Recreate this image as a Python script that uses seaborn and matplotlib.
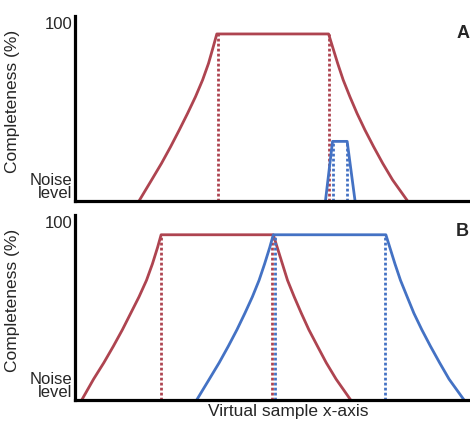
import pandas as pd
import matplotlib
matplotlib.use("Agg")
import matplotlib.pyplot as plt
import seaborn as sns

RED = "#AE4450"
BLUE = "#4472C4"

# panel A - red curve (x in sample units, y in % completeness)
a_red_x = [16.2, 19.4, 21.9, 24.2, 26.4, 28.5, 30.5, 32.3, 33.8, 35.0, 35.9,
           64.2, 65.2, 66.5, 67.9, 69.6, 71.4, 73.4, 75.6, 77.9, 80.4, 84.2]
a_red_y = [0, 11.8, 21.1, 30.4, 39.8, 49.1, 58.4, 67.8, 77.1, 86.4, 93.6,
           93.6, 86.4, 77.1, 67.8, 58.4, 49.1, 39.8, 30.4, 21.1, 11.8, 0]
a_red_bounds = [36.2, 64.3]

# panel A - small blue curve
a_blue_x = [63.4, 65.2, 68.9, 70.9]
a_blue_y = [0, 33.4, 33.4, 0]
a_blue_bounds = [65.3, 68.8]

# panel B - red and blue curves
b_red_x = [1.7, 4.7, 7.3, 9.7, 12.0, 14.1, 16.2, 18.1, 19.6, 20.9, 21.8,
           50.2, 51.2, 52.5, 53.8, 55.5, 57.3, 59.2, 61.4, 63.6, 66.1, 69.8]
b_red_y = [0, 11.7, 20.9, 30.1, 39.4, 48.6, 57.8, 67.1, 76.3, 85.5, 92.6,
           92.6, 85.5, 76.3, 67.1, 57.8, 48.6, 39.4, 30.1, 20.9, 11.7, 0]
b_red_bounds = [21.8, 49.9]

b_blue_x = [30.8, 34.0, 36.5, 38.8, 41.0, 43.0, 44.9, 46.6, 48.0, 49.3, 50.2,
            78.7, 79.7, 81.0, 82.4, 84.1, 85.8, 87.8, 90.0, 92.3, 94.7, 98.5]
b_blue_y = b_red_y
b_blue_bounds = [50.6, 78.5]

ytick_vals = [0, 100]
ytick_labels = ["Noise\nlevel", "100"]


def draw_curve(ax, xs, ys, bounds, color):
    df = pd.DataFrame({"x": xs, "y": ys})
    sns.lineplot(data=df, x="x", y="y", ax=ax, color=color, lw=2.0,
                 sort=False, estimator=None)
    top = max(ys)
    ax.vlines(bounds, 0, top, colors=color, lw=2.0,
              linestyles=[(0, (1.0, 0.8))])


def style_panel(ax, letter, letter_y):
    ax.set_xlim(0, 100)
    ax.set_ylim(0, 103.6)
    ax.set_xticks([])
    ax.set_yticks(ytick_vals)
    ax.set_yticklabels(ytick_labels)
    ax.tick_params(axis="y", length=0, pad=2, labelsize=12)
    labs = ax.get_yticklabels()
    labs[0].set_va("bottom")
    labs[0].set_linespacing(0.85)
    for side in ["top", "right"]:
        ax.spines[side].set_visible(False)
    for side in ["left", "bottom"]:
        ax.spines[side].set_linewidth(2.3)
        ax.spines[side].set_color("black")
        ax.spines[side].set_zorder(5)
    ax.set_ylabel("Completeness (%)", fontsize=12.5)
    ax.yaxis.set_label_coords(-0.139, 0.54)
    ax.set_xlabel("")
    ax.text(0.998, letter_y, letter, transform=ax.transAxes, ha="right",
            va="center", fontsize=13, fontweight="bold")


sns.set_style("white")
plt.rcParams["font.family"] = ["Liberation Sans", "DejaVu Sans"]

fig = plt.figure(figsize=(4.7, 4.24), dpi=100)
ax_a = fig.add_axes([0.1596, 0.526, 0.8404, 0.436])
ax_b = fig.add_axes([0.1596, 0.0566, 0.8404, 0.436])

draw_curve(ax_a, a_red_x, a_red_y, a_red_bounds, RED)
draw_curve(ax_a, a_blue_x, a_blue_y, a_blue_bounds, BLUE)
style_panel(ax_a, "A", 0.905)

draw_curve(ax_b, b_red_x, b_red_y, b_red_bounds, RED)
draw_curve(ax_b, b_blue_x, b_blue_y, b_blue_bounds, BLUE)
style_panel(ax_b, "B", 0.911)
ax_b.set_xlabel("Virtual sample x-axis", fontsize=12.5)
ax_b.xaxis.set_label_coords(0.539, -0.02)

fig.savefig("out.png", dpi=100)
